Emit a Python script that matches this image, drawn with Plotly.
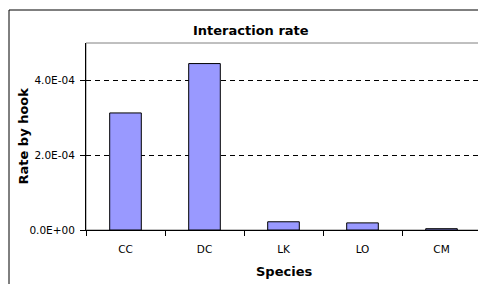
import plotly.graph_objects as go

species = ["CC", "DC", "LK", "LO", "CM"]
rates = [3.13e-4, 4.45e-4, 2.2e-5, 1.9e-5, 3.5e-6]
y_tick_vals = [0, 2e-4, 4e-4]
y_tick_text = ["0.0E+00", "2.0E-04", "4.0E-04"]

# page has an 8px body margin; figure is placed at (8, 8)
OFF = 8
W, H = 486 - OFF, 284 - OFF
L, R, T, B = 86 - OFF, 5, 43 - OFF, 54
pw, ph = W - L - R, H - T - B


def px_x(px):
    return (px - OFF - L) / pw


def px_y(py):
    return (H - B - (py - OFF)) / ph


FONT = "DejaVu Sans, Liberation Sans, Arial, sans-serif"

fig = go.Figure(
    go.Bar(
        x=species,
        y=rates,
        marker=dict(color="#9999FF", line=dict(color="black", width=1)),
    )
)

fig.update_layout(
    width=W,
    height=H,
    margin=dict(l=L, r=R, t=T, b=B, autoexpand=False),
    paper_bgcolor="white",
    plot_bgcolor="white",
    bargap=0.6,
    showlegend=False,
    font=dict(family=FONT, size=10.5, color="black"),
    xaxis=dict(
        type="category",
        showline=True,
        linecolor="black",
        linewidth=1,
        ticks="outside",
        tickson="boundaries",
        ticklen=5,
        tickcolor="black",
        showgrid=False,
        ticklabelstandoff=9,
        tickfont=dict(family=FONT, size=10.5, color="black"),
    ),
    yaxis=dict(
        range=[0, 5e-4],
        tickvals=y_tick_vals,
        ticktext=y_tick_text,
        showline=True,
        linecolor="black",
        linewidth=1,
        ticks="outside",
        ticklen=5,
        tickcolor="black",
        showgrid=True,
        gridcolor="black",
        gridwidth=1,
        griddash="5px,4px",
        zeroline=False,
        ticklabelstandoff=3,
        tickfont=dict(family=FONT, size=10.5, color="black"),
    ),
    shapes=[
        dict(type="rect", xref="paper", yref="paper", x0=0, x1=1, y0=0, y1=1,
             line=dict(color="#808080", width=1), layer="below"),
        dict(type="line", xref="paper", yref="paper",
             x0=px_x(9), x1=px_x(9), y0=px_y(10), y1=px_y(300),
             line=dict(color="black", width=1)),
        dict(type="line", xref="paper", yref="paper",
             x0=px_x(9), x1=px_x(500), y0=px_y(10), y1=px_y(10),
             line=dict(color="black", width=1)),
    ],
    annotations=[
        dict(text="<b>Interaction rate</b>", xref="paper", yref="paper",
             x=px_x(251), y=px_y(31), xanchor="center", yanchor="middle",
             showarrow=False, font=dict(family=FONT, size=13, color="black")),
        dict(text="<b>Rate by hook</b>", xref="paper", yref="paper",
             x=px_x(23), y=0.5, xanchor="center", yanchor="middle", textangle=-90,
             showarrow=False, font=dict(family=FONT, size=13, color="black")),
        dict(text="<b>Species</b>", xref="paper", yref="paper",
             x=0.5, y=px_y(271), xanchor="center", yanchor="middle",
             showarrow=False, font=dict(family=FONT, size=13, color="black")),
    ],
)

fig.write_html("out.html")
